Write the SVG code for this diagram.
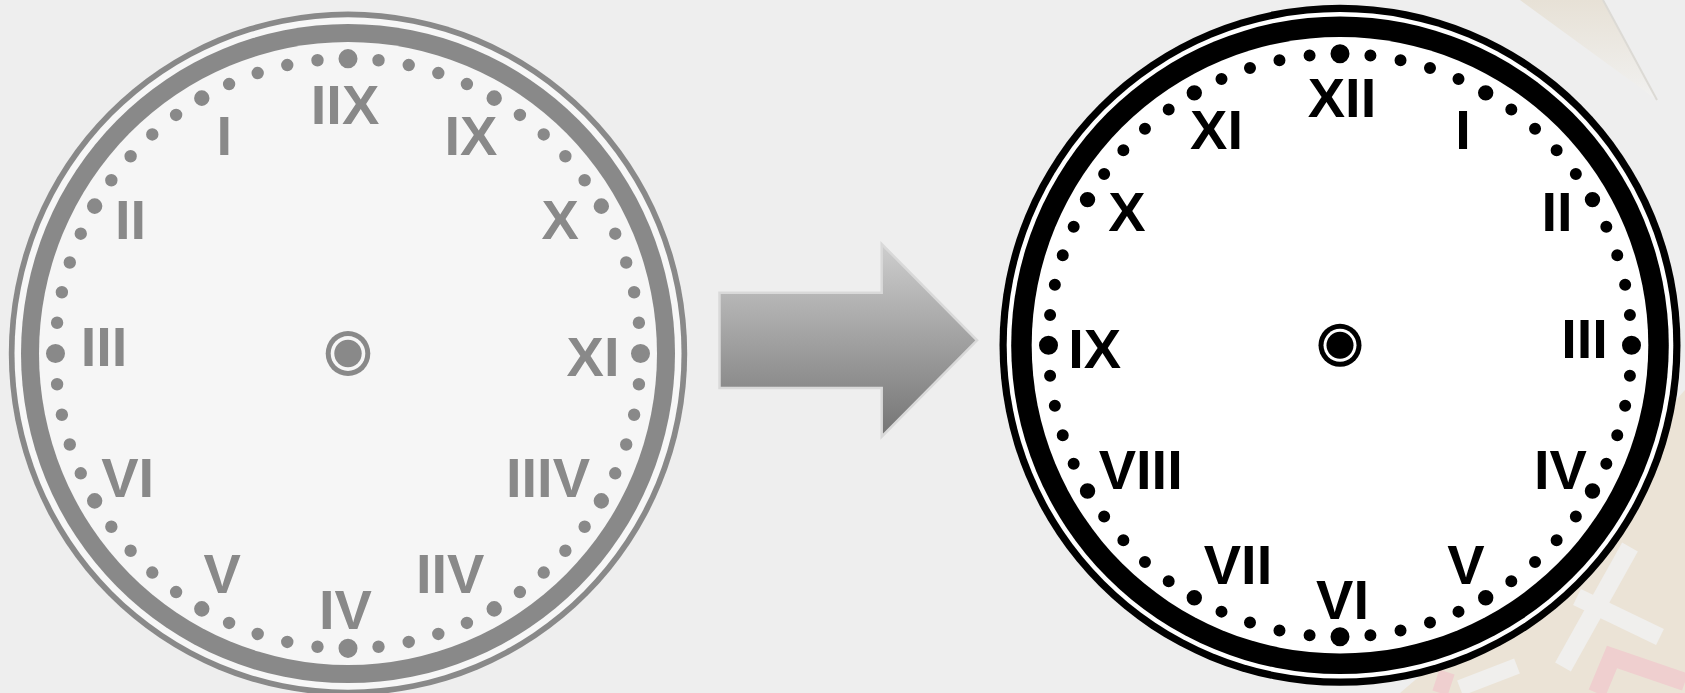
<svg xmlns="http://www.w3.org/2000/svg" width="1685" height="693" viewBox="0 0 1685 693">
<defs>
<style>
.num{font-family:"Liberation Sans",Arial,sans-serif;font-weight:bold;font-size:56px;text-anchor:middle}
.g{fill:#898989}
.k{fill:#000}
.dots{fill:none;stroke-linecap:round;stroke-dasharray:0 1}
</style>
<linearGradient id="arrowGrad" gradientUnits="userSpaceOnUse" x1="0" y1="244" x2="0" y2="437">
<stop offset="0" stop-color="#cecece"/>
<stop offset="1" stop-color="#747474"/>
</linearGradient>
<linearGradient id="penGrad" x1="0" y1="0" x2="0" y2="1">
<stop offset="0" stop-color="#e7e1d6"/>
<stop offset="1" stop-color="#f1f1f0"/>
</linearGradient>
</defs>
<rect width="1685" height="693" fill="#eeeeee"/>
<g id="background">
<polygon points="1520,0 1603,0 1657,100" fill="url(#penGrad)"/>
<line x1="1603" y1="0" x2="1657" y2="100" stroke="#dcdad5" stroke-width="2"/>
<polygon points="1685,390 1685,693 1400,693 1520,590 1640,440" fill="#ebe3d6"/>
<line x1="1630" y1="547" x2="1563" y2="667" stroke="#f0efed" stroke-width="18"/>
<line x1="1577" y1="597" x2="1660" y2="637" stroke="#f0efed" stroke-width="18"/>
<polyline points="1597,693 1612,657 1685,682" fill="none" stroke="#efcfcf" stroke-width="18"/>
<line x1="1440" y1="693" x2="1447" y2="672" stroke="#efcfcf" stroke-width="16"/>
<line x1="1460" y1="688" x2="1517" y2="666" stroke="#f0efed" stroke-width="16"/>
</g>
<g id="clock-mirrored">
<g transform="translate(348,353.5) scale(1,1.008)">
<circle r="339.2" fill="#898989"/>
<circle r="333.5" fill="#f7f7f7"/>
<circle r="327" fill="#898989"/>
<circle r="309" fill="#f6f6f6"/>
<circle r="292.5" class="dots" stroke="#898989" stroke-width="12.4" pathLength="60"/>
<circle r="292.5" class="dots" stroke="#898989" stroke-width="15.4" pathLength="12"/>
<circle r="292.5" class="dots" stroke="#898989" stroke-width="19" pathLength="4"/>
<circle r="22.3" fill="#898989"/>
<circle r="17.3" fill="#f6f6f6"/>
<circle r="13.7" fill="#898989"/>
</g>
<text class="num g" x="345" y="124">IIX</text>
<text class="num g" x="224.3" y="155">I</text>
<text class="num g" x="471" y="155">IX</text>
<text class="num g" x="130.6" y="238.5">II</text>
<text class="num g" x="560.2" y="239">X</text>
<text class="num g" x="104" y="366">III</text>
<text class="num g" x="593" y="376">XI</text>
<text class="num g" x="127.7" y="497">VI</text>
<text class="num g" x="548" y="497">IIIV</text>
<text class="num g" x="222.3" y="593">V</text>
<text class="num g" x="450.2" y="593">IIV</text>
<text class="num g" x="345.5" y="628.5">IV</text>
</g>
<g id="connectors">
<polygon points="719.5,292.7 881.7,292.7 881.7,244 977,340.3 881.7,436.7 881.7,388 719.5,388" fill="url(#arrowGrad)" stroke="#d9d9d9" stroke-width="2.5"/>
</g>
<g id="clock-normal">
<g transform="translate(1340,345.3)">
<circle r="340.5" fill="#000"/>
<circle r="333.3" fill="#fff"/>
<circle r="328.8" fill="#000"/>
<circle r="308.3" fill="#fff"/>
<circle r="291.5" class="dots" stroke="#000" stroke-width="12" pathLength="60"/>
<circle r="291.5" class="dots" stroke="#000" stroke-width="15.4" pathLength="12"/>
<circle r="291.5" class="dots" stroke="#000" stroke-width="19" pathLength="4"/>
<circle r="21.5" fill="#000"/>
<circle r="16.5" fill="#fff"/>
<circle r="13.5" fill="#000"/>
</g>
<text class="num k" x="1342" y="117">XII</text>
<text class="num k" x="1463" y="148.5">I</text>
<text class="num k" x="1557" y="231">II</text>
<text class="num k" x="1584.6" y="357.5">III</text>
<text class="num k" x="1560.5" y="488.5">IV</text>
<text class="num k" x="1466" y="583.5">V</text>
<text class="num k" x="1342.5" y="618.5">VI</text>
<text class="num k" x="1238" y="583.5">VII</text>
<text class="num k" x="1140.7" y="488.5">VIII</text>
<text class="num k" x="1094.6" y="367.5">IX</text>
<text class="num k" x="1127" y="231">X</text>
<text class="num k" x="1216.5" y="148.5">XI</text>
</g>
</svg>
